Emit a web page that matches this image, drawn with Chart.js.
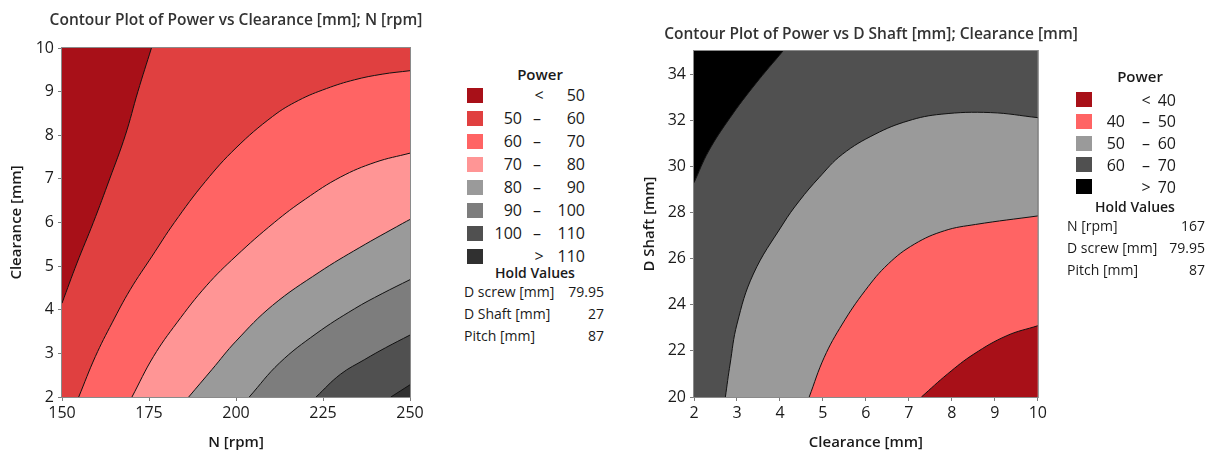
<!DOCTYPE html>
<html>
<head>
<meta charset="utf-8">
<title>Contour Plots of Power</title>
<script src="https://cdn.jsdelivr.net/npm/chart.js@4.4.1/dist/chart.umd.min.js"></script>
<style>
  html, body { margin: 0; padding: 0; background: #fff; }
  #wrap { position: relative; width: 1215px; height: 455px; overflow: hidden; font-family: "Open Sans", "Noto Sans", sans-serif; color: #1a1a1a; }
  canvas { position: absolute; top: 0; }
  .ttl { position: absolute; font-weight: 600; font-size: 15.5px; color: #333; white-space: nowrap; transform: translate(-50%, -50%); }
  .leg { position: absolute; top: 0; width: 180px; height: 455px; }
  .leg div { position: absolute; white-space: nowrap; }
  .sw { width: 16px; height: 15px; }
  .num { font-size: 16px; transform: translate(-100%, -50%); }
  .mid { font-size: 16px; transform: translate(-50%, -50%); }
  .hd { font-size: 15px; font-weight: 600; transform: translate(-50%, -50%); }
  .hv { font-size: 14px; font-weight: 600; transform: translate(-50%, -50%); }
  .hl { font-size: 14px; transform: translate(0, -50%); }
  .hr { font-size: 14px; transform: translate(-100%, -50%); }
</style>
</head>
<body>
<div id="wrap">
  <canvas id="leftChart" width="440" height="455" style="left:0"></canvas>
  <canvas id="rightChart" width="430" height="455" style="left:620px"></canvas>
  <div class="ttl" style="left:236px; top:19px">Contour Plot of Power vs Clearance [mm]; N [rpm]</div>
  <div class="ttl" style="left:871px; top:33px">Contour Plot of Power vs D Shaft [mm]; Clearance [mm]</div>
  <div class="leg" id="legLeft" style="left:440px"></div>
  <div class="leg" id="legRight" style="left:1040px"></div>
</div>

<script>
// ────────── data ──────────

// left plot: Clearance [mm] vs N [rpm]
var N_TICKS = [150, 175, 200, 225, 250];
var CLEARANCE_TICKS = [2, 3, 4, 5, 6, 7, 8, 9, 10];
var LEFT_BREAKS = [50, 60, 70, 80, 90, 100, 110];

// contour lines as [N, Clearance]
var L_P50 = [[150, 4.15], [154.3, 5.07], [159, 6.0], [163.7, 7.0], [168.2, 8.0], [171.8, 9.0], [175.7, 10]];
var L_P60 = [[154.8, 2], [159.6, 2.93], [164.4, 3.7], [169.6, 4.46], [175.9, 5.23], [182.3, 6.0], [191.2, 6.94],
             [200, 7.71], [210.5, 8.43], [218, 8.8], [226, 9.07], [234, 9.27], [242, 9.4], [250, 9.48]];
var L_P70 = [[170.1, 2], [176.3, 2.93], [183, 3.7], [191.5, 4.55], [200, 5.23], [211, 6.0], [220, 6.54],
             [230, 7.04], [240, 7.38], [250, 7.59]];
var L_P80 = [[186.4, 2], [193.1, 2.63], [200, 3.28], [210.5, 4.1], [223.9, 4.86], [235.4, 5.42], [247.9, 5.98], [250, 6.07]];
var L_P90 = [[203.8, 2], [212.5, 2.78], [223, 3.45], [234, 4.02], [242, 4.37], [250, 4.69]];
var L_P100 = [[223, 2], [230, 2.52], [237, 2.86], [243, 3.13], [250, 3.42]];
var L_P110 = [[244.5, 2], [250, 2.28]];

var LEFT_HOLD_LABELS = ['D screw [mm]', 'D Shaft [mm]', 'Pitch [mm]'];
var LEFT_HOLD_VALUES = ['79.95', '27', '87'];

// right plot: D Shaft [mm] vs Clearance [mm]
var CLR_TICKS = [2, 3, 4, 5, 6, 7, 8, 9, 10];
var DSHAFT_TICKS = [20, 22, 24, 26, 28, 30, 32, 34];
var RIGHT_BREAKS = [40, 50, 60, 70];

// contour lines as [Clearance, D Shaft]
var R_P70 = [[2, 29.29], [2.34, 30.66], [2.84, 32.11], [3.42, 33.55], [4.07, 35]];
var R_P60 = [[2.73, 20], [2.84, 21.43], [3.0, 23.16], [3.38, 25.33], [4.07, 27.5], [4.45, 28.5], [4.91, 29.51],
             [5.45, 30.52], [6.21, 31.39], [6.98, 31.97], [7.75, 32.26], [8.9, 32.33], [10, 32.11]];
var R_P50 = [[4.68, 20], [5.03, 21.72], [5.45, 23.16], [5.98, 24.61], [6.52, 25.77], [7.13, 26.63], [7.83, 27.21],
             [8.55, 27.48], [10, 27.85]];
var R_P40 = [[7.29, 20], [7.9, 21.0], [8.51, 21.86], [9.28, 22.66], [10, 23.09]];

var RIGHT_HOLD_LABELS = ['N [rpm]', 'D screw [mm]', 'Pitch [mm]'];
var RIGHT_HOLD_VALUES = ['167', '79.95', '87'];
</script>

<script>
(function () {
  'use strict';

  // ────────── styles ──────────
  var LINE = '#111111';
  var LEFT_COLORS = ['#A81018', '#E04040', '#FF6464', '#FF9595', '#9A9A9A', '#7D7D7D', '#505050', '#303030'];
  var RIGHT_COLORS = ['#A81018', '#FF6464', '#9A9A9A', '#505050', '#000000'];
  var FONT = '"Open Sans", "Noto Sans", sans-serif';

  function pts(arr) {
    return arr.map(function (p) { return { x: p[0], y: p[1] }; });
  }

  // one contour line + the band on one side of it ('start' = below, 'end' = above)
  // datasets are painted in order: lowest `order` value ends up on top
  function band(data, color, fill, order) {
    return {
      data: pts(data),
      borderColor: LINE,
      borderWidth: 1,
      backgroundColor: color,
      fill: fill,
      pointRadius: 0,
      tension: 0.4,
      order: order
    };
  }

  var plotFrame = {
    id: 'plotFrame',
    beforeDatasetsDraw: function (chart, args, opts) {
      var a = chart.chartArea, ctx = chart.ctx;
      ctx.save();
      ctx.fillStyle = opts.background;
      ctx.fillRect(a.left, a.top, a.right - a.left, a.bottom - a.top);
      ctx.restore();
    },
    afterDatasetsDraw: function (chart) {
      var a = chart.chartArea, ctx = chart.ctx;
      ctx.save();
      ctx.strokeStyle = '#8a8a8a';
      ctx.lineWidth = 1;
      ctx.strokeRect(a.left - 0.5, a.top - 0.5, a.right - a.left + 1, a.bottom - a.top + 1);
      ctx.restore();
    }
  };

  function axis(pos, min, max, ticks, title, size, titlePad) {
    return {
      type: 'linear',
      position: pos,
      min: min,
      max: max,
      afterBuildTicks: function (scale) {
        scale.ticks = ticks.map(function (v) { return { value: v }; });
      },
      afterFit: function (scale) {
        if (pos === 'left') scale.width = size; else scale.height = size;
      },
      grid: { drawOnChartArea: false, drawTicks: true, tickLength: 4, color: '#7a7a7a' },
      border: { display: true, color: '#8a8a8a' },
      ticks: { color: '#1a1a1a', padding: pos === 'left' ? 4 : 3, font: { family: FONT, size: 16 } },
      title: {
        display: true,
        text: title,
        color: '#1a1a1a',
        padding: pos === 'left' ? { top: titlePad } : { bottom: titlePad },
        font: { family: FONT, size: 15, weight: '600' }
      }
    };
  }

  function makeChart(id, datasets, bg, xAx, yAx, padding) {
    return new Chart(document.getElementById(id), {
      type: 'line',
      data: { datasets: datasets },
      options: {
        responsive: false,
        animation: false,
        events: [],
        layout: { padding: padding },
        plugins: {
          legend: { display: false },
          tooltip: { enabled: false },
          plotFrame: { background: bg }
        },
        scales: { x: xAx, y: yAx }
      },
      plugins: [plotFrame]
    });
  }

  // ────────── left chart ──────────
  // background = 50–60 band; <50 is filled above its line, the rest below theirs
  var leftSets = [band(L_P50, LEFT_COLORS[0], 'end', 10)];
  [L_P60, L_P70, L_P80, L_P90, L_P100, L_P110].forEach(function (d, i) {
    leftSets.push(band(d, LEFT_COLORS[i + 2], 'start', 9 - i));
  });
  makeChart('leftChart', leftSets, LEFT_COLORS[1],
    axis('bottom', 150, 250, N_TICKS, 'N [rpm]', 58, 3),
    axis('left', 2, 10, CLEARANCE_TICKS, 'Clearance [mm]', 62, 8),
    { top: 48, right: 30, bottom: 0, left: 0 });

  // ────────── right chart ──────────
  var rightSets = [
    band(R_P60, RIGHT_COLORS[2], 'start', 4),
    band(R_P50, RIGHT_COLORS[1], 'start', 3),
    band(R_P40, RIGHT_COLORS[0], 'start', 2),
    band(R_P70, RIGHT_COLORS[4], 'end', 1)
  ];
  makeChart('rightChart', rightSets, RIGHT_COLORS[3],
    axis('bottom', 2, 10, CLR_TICKS, 'Clearance [mm]', 58, 3),
    axis('left', 20, 35, DSHAFT_TICKS, 'D Shaft [mm]', 74, 21),
    { top: 51, right: 8, bottom: 0, left: 0 });

  // ────────── legends ──────────
  function put(el, cls, x, y, text, bg) {
    var d = document.createElement('div');
    d.className = cls;
    d.style.left = x + 'px';
    d.style.top = y + 'px';
    if (text != null) d.textContent = text;
    if (bg) d.style.background = bg;
    el.appendChild(d);
  }

  function buildLegend(id, breaks, colors, g, holdLabels, holdValues) {
    var el = document.getElementById(id);
    put(el, 'hd', g.head[0], g.head[1], 'Power');
    var n = breaks.length + 1;
    for (var i = 0; i < n; i++) {
      var y = g.row0 + i * g.step;
      put(el, 'sw', g.sw, y - 7.5, null, colors[i]);
      if (i === 0) {
        put(el, 'mid', g.sign, y, '<');
        put(el, 'num', g.right, y, String(breaks[0]));
      } else if (i === n - 1) {
        put(el, 'mid', g.sign, y, '>');
        put(el, 'num', g.right, y, String(breaks[n - 2]));
      } else {
        put(el, 'num', g.left, y, String(breaks[i - 1]));
        put(el, 'mid', g.dash, y, '–');
        put(el, 'num', g.right, y, String(breaks[i]));
      }
    }
    put(el, 'hv', g.hold[0], g.hold[1], 'Hold Values');
    holdLabels.forEach(function (lab, k) {
      var y = g.hRow0 + k * g.hStep;
      put(el, 'hl', g.hLeft, y, lab);
      put(el, 'hr', g.hRight, y, holdValues[k]);
    });
  }

  buildLegend('legLeft', LEFT_BREAKS, LEFT_COLORS, {
    head: [100, 74], sw: 27, row0: 95, step: 23, sign: 99, left: 82, dash: 97, right: 145,
    hold: [95, 272], hRow0: 291, hStep: 22, hLeft: 24, hRight: 164
  }, LEFT_HOLD_LABELS, LEFT_HOLD_VALUES);

  buildLegend('legRight', RIGHT_BREAKS, RIGHT_COLORS, {
    head: [100, 76], sw: 36, row0: 99.5, step: 21.8, sign: 106, left: 85, dash: 106, right: 136,
    hold: [95, 206], hRow0: 224.5, hStep: 22.3, hLeft: 27, hRight: 165
  }, RIGHT_HOLD_LABELS, RIGHT_HOLD_VALUES);
})();
</script>
</body>
</html>
